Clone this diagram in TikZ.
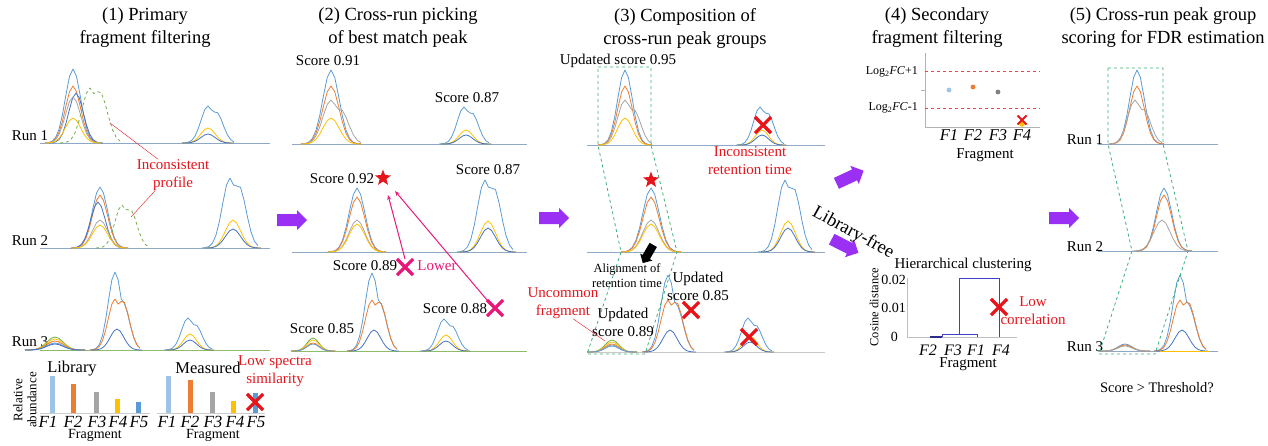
\documentclass[tikz,border=0pt]{standalone}
\usepackage{fontspec}
\setmainfont{Liberation Serif}
\usetikzlibrary{shapes.geometric,shapes.misc,arrows.meta}

\definecolor{pkblue}{HTML}{5B9BD5}
\definecolor{pkorange}{HTML}{ED7D31}
\definecolor{pkgray}{HTML}{A5A5A5}
\definecolor{pkyellow}{HTML}{FFC000}
\definecolor{pkdblue}{HTML}{4472C4}
\definecolor{pklblue}{HTML}{9DC3E6}
\definecolor{pkgreen}{HTML}{70AD47}
\definecolor{baseln}{HTML}{8EA9C8}
\definecolor{grpgreen}{HTML}{3CB07A}
\definecolor{arrowpurple}{HTML}{9B30F5}
\definecolor{lowermag}{HTML}{E8187A}
\definecolor{warnred}{HTML}{E8141B}
\definecolor{dendro}{HTML}{3F3FC8}

\tikzset{
	pkline/.style={line width=0.8pt, line join=round},
	ttl/.style={font=\fontsize{18.5}{23}\selectfont, align=center, inner sep=0pt},
	lbl/.style={font=\fontsize{15}{18}\selectfont, align=center, inner sep=0pt},
	smalllbl/.style={font=\fontsize{12.5}{15}\selectfont, align=center, inner sep=0pt},
	redtxt/.style={lbl, text=warnred},
	fraglbl/.style={font=\fontsize{16.5}{18}\selectfont\itshape, inner sep=0pt},
	xred/.style={cross out, draw=warnred, line width=3.2pt, minimum size=13pt, inner sep=0pt},
	xmag/.style={cross out, draw=lowermag, line width=3.2pt, minimum size=13pt, inner sep=0pt},
	grpbox/.style={grpgreen, dashed, line width=0.8pt},
}

% peak: [shoulder ratio] centre, baseline, height, half width, colour
\newcommand{\pk}[6][0]{\draw[#6, pkline] plot[domain=-#5:#5, samples=17] ({#2+\x},{#3-#4*max(exp(-6.76*\x*\x/(#5*#5)), #1*exp(-6.76*(\x-0.3*#5)*(\x-0.3*#5)/(#5*#5)))});}
% block arrow: [scale] x, y, angle, colour
\newcommand{\blockarrow}[5][1]{\fill[#5, shift={(#2,#3)}, rotate=#4, scale=#1] (-15,-6) -- (5,-6) -- (5,-10) -- (15,0) -- (5,10) -- (5,6) -- (-15,6) -- cycle;}

\begin{document}
\begin{tikzpicture}[x=1pt, y=-1pt]
	\useasboundingbox (0,0) rectangle (1268,445);

	% (1) primary fragment filtering
	\node[ttl] (t1) at (145,28) {(1) Primary\\fragment filtering};
	\node[lbl] (r1a) at (30,136) {Run 1};
	\node[lbl] (r2a) at (30,241) {Run 2};
	\node[lbl] (r3a) at (30,342) {Run 3};
	\draw[baseln, pkline] (40,143) -- (270,143);
	\draw[baseln, pkline] (40,248) -- (270,248);
	\draw[pkgreen!80, pkline] (40,350) -- (270,350);
	\pk{73}{143}{74}{28}{pkblue}
	\pk{73}{143}{57}{28}{pkorange}
	\pk{76}{143}{50}{27}{pkdblue}
	\pk{73}{143}{46}{28}{pkgray}
	\pk{73}{143}{25}{28}{pkyellow}
	\pk[0.95]{90}{143}{55}{30}{pkgreen, dashed}
	\pk[0.85]{208}{143}{37}{26}{pkblue}
	\pk{208}{143}{15}{26}{pkyellow}
	\pk{208}{143}{9}{26}{pkdblue}
	\pk{100}{248}{61}{28}{pkblue}
	\pk{100}{248}{53}{28}{pkorange}
	\pk{98}{248}{46}{27}{pkdblue}
	\pk{100}{248}{28}{28}{pkgray}
	\pk{100}{248}{23}{28}{pkyellow}
	\pk[0.9]{122}{248}{43}{26}{pkgreen, dashed}
	\pk[0.9]{230}{248}{70}{28}{pkblue}
	\pk{233}{248}{28}{28}{pkyellow}
	\pk{233}{248}{19}{28}{pkdblue}
	\pk{55}{350}{13}{30}{pkgreen}
	\pk{55}{350}{11}{30}{pkyellow}
	\pk{55}{350}{9}{30}{pkorange}
	\pk{55}{350}{7}{30}{pkblue}
	\pk{55}{350}{6}{30}{pkdblue}
	\pk[0.62]{115}{350}{78}{25}{pkblue}
	\pk[0.97]{115}{350}{51}{25}{pkorange}
	\pk{117}{350}{21}{25}{pkdblue}
	\pk[0.8]{188}{350}{32}{24}{pkblue}
	\pk{190}{350}{16}{24}{pkyellow}
	\pk{190}{350}{10}{24}{pkdblue}
	\node[redtxt] (incon) at (173,175) {Inconsistent\\profile};
	\coordinate (gpka) at (110,123);
	\coordinate (gpkb) at (131,217);
	\draw[warnred, thin] (gpka) -- ([xshift=-15pt]incon.north);
	\draw[warnred, thin] ([xshift=-18pt]incon.south) -- (gpkb);

	\node[lbl, font=\fontsize{16.5}{18}\selectfont] (lib) at (72,369) {Library};
	\node[lbl, font=\fontsize{16.5}{18}\selectfont] (meas) at (208,368) {Measured};
	\node[lbl, font=\fontsize{13}{14}\selectfont, rotate=90] (relab) at (25,400) {Relative\\abundance};
	\draw[gray!40] (40,413) -- (150,413);
	\draw[gray!40] (157,413) -- (265,413);
	\fill[pklblue] (50,376) rectangle (55,413);
	\fill[pkorange] (71,384) rectangle (76,413);
	\fill[pkgray] (94,392) rectangle (99,413);
	\fill[pkyellow] (115,399) rectangle (120,413);
	\fill[pkblue] (136,402) rectangle (141,413);
	\fill[pklblue] (166,376) rectangle (171,413);
	\fill[pkorange] (188,380) rectangle (193,413);
	\fill[pkgray] (210,392) rectangle (215,413);
	\fill[pkyellow] (231,401) rectangle (236,413);
	\fill[pkblue] (253,393) rectangle (258,413);
	\node[fraglbl, font=\fontsize{17}{18}\selectfont\itshape] (la1) at (48,422) {F1};
	\node[fraglbl, font=\fontsize{17}{18}\selectfont\itshape] (la2) at (73,422) {F2};
	\node[fraglbl, font=\fontsize{17}{18}\selectfont\itshape] (la3) at (97,422) {F3};
	\node[fraglbl, font=\fontsize{17}{18}\selectfont\itshape] (la4) at (118,422) {F4};
	\node[fraglbl, font=\fontsize{17}{18}\selectfont\itshape] (la5) at (139,422) {F5};
	\node[fraglbl, font=\fontsize{17}{18}\selectfont\itshape] (ma1) at (167,422) {F1};
	\node[fraglbl, font=\fontsize{17}{18}\selectfont\itshape] (ma2) at (190,422) {F2};
	\node[fraglbl, font=\fontsize{17}{18}\selectfont\itshape] (ma3) at (213,422) {F3};
	\node[fraglbl, font=\fontsize{17}{18}\selectfont\itshape] (ma4) at (235,422) {F4};
	\node[fraglbl, font=\fontsize{17}{18}\selectfont\itshape] (ma5) at (256,422) {F5};
	\node[lbl, font=\fontsize{14}{16}\selectfont] (fraga) at (95,435) {Fragment};
	\node[lbl, font=\fontsize{14}{16}\selectfont] (fragb) at (213,435) {Fragment};
	\node[xred] (xsim) at (255,402) {};
	\node[redtxt] (lowsim) at (275,371) {Low spectra\\similarity};

	\blockarrow{292}{220}{0}{arrowpurple}

	% (2) cross-run picking of best match peak
	\node[ttl] (t2) at (398,28) {(2) Cross-run picking\\of best match peak};
	\draw[baseln, pkline] (292,144) -- (527,144);
	\draw[baseln, pkline] (292,252) -- (527,252);
	\draw[pkgreen!80, pkline] (292,351) -- (527,351);
	\pk{331}{144}{74}{30}{pkblue}
	\pk{331}{144}{58}{30}{pkorange}
	\pk[0.8]{331}{144}{44}{30}{pkgray}
	\pk{331}{144}{26}{30}{pkyellow}
	\pk[0.85]{464}{144}{37}{25}{pkblue}
	\pk{466}{144}{14}{25}{pkyellow}
	\pk{466}{144}{9}{25}{pkdblue}
	\pk{357}{252}{64}{29}{pkblue}
	\pk{357}{252}{55}{29}{pkorange}
	\pk{357}{252}{32}{29}{pkgray}
	\pk{357}{252}{28}{29}{pkyellow}
	\pk[0.9]{485}{252}{72}{28}{pkblue}
	\pk{488}{252}{31}{28}{pkyellow}
	\pk{488}{252}{24}{28}{pkdblue}
	\pk{313}{351}{13}{22}{pkgreen}
	\pk{313}{351}{11}{22}{pkyellow}
	\pk{313}{351}{8}{22}{pkorange}
	\pk{313}{351}{7}{22}{pkblue}
	\pk[0.62]{372}{351}{78}{25}{pkblue}
	\pk[0.97]{372}{351}{51}{25}{pkorange}
	\pk{374}{351}{21}{25}{pkdblue}
	\pk[0.8]{444}{351}{32}{24}{pkblue}
	\pk{446}{351}{16}{24}{pkyellow}
	\pk{446}{351}{10}{24}{pkdblue}
	\node[lbl] (s91) at (328,61) {Score 0.91};
	\node[lbl] (s87a) at (467,98) {Score 0.87};
	\node[lbl] (s92) at (342,179) {Score 0.92};
	\node[lbl] (s87b) at (488,170) {Score 0.87};
	\node[lbl] (s89) at (365,266) {Score 0.89};
	\node[lbl] (s88) at (455,309) {Score 0.88};
	\node[lbl] (s85) at (322,329) {Score 0.85};
	\node[lbl, text=lowermag] (lower) at (437,266) {Lower};
	\node[star, star points=5, star point ratio=2.4, fill=warnred, minimum size=17pt, inner sep=0pt] (best) at (383,178) {};
	\node[xmag] (x89) at (405,267) {};
	\node[xmag] (x88) at (495,308) {};
	\coordinate (tipa) at (388,195);
	\coordinate (tipb) at (395,191);
	\draw[lowermag, line width=1pt, -{Stealth[length=5pt, width=4pt]}] (x89.north) -- (tipa);
	\draw[lowermag, line width=1pt, -{Stealth[length=5pt, width=4pt]}] (x88.north west) -- (tipb);

	\blockarrow{554}{218}{0}{arrowpurple}

	% (3) composition of cross-run peak groups
	\node[ttl] (t3) at (685,28) {(3) Composition of\\cross-run peak groups};
	\draw[baseln, pkline] (587,145) -- (825,145);
	\draw[baseln, pkline] (587,252) -- (825,252);
	\draw[pkgray!60, pkline] (587,352) -- (825,352);
	\pk{625}{145}{75}{27}{pkblue}
	\pk{625}{145}{59}{27}{pkorange}
	\pk[0.8]{625}{145}{45}{27}{pkgray}
	\pk{625}{145}{27}{27}{pkyellow}
	\pk[0.85]{760}{145}{38}{24}{pkblue}
	\pk{762}{145}{15}{24}{pkyellow}
	\pk{762}{145}{10}{24}{pkdblue}
	\pk{651}{252}{64}{30}{pkblue}
	\pk{651}{252}{55}{30}{pkorange}
	\pk{651}{252}{32}{30}{pkgray}
	\pk{651}{252}{28}{30}{pkyellow}
	\pk[0.9]{785}{252}{72}{27}{pkblue}
	\pk{788}{252}{31}{27}{pkyellow}
	\pk{788}{252}{24}{27}{pkdblue}
	\pk{612}{352}{12}{25}{pkgreen}
	\pk{612}{352}{10}{25}{pkyellow}
	\pk{612}{352}{8}{25}{pkorange}
	\pk{612}{352}{7}{25}{pkgray}
	\pk{612}{352}{6}{25}{pkblue}
	\pk[0.62]{668}{352}{77}{26}{pkblue}
	\pk[0.97]{668}{352}{52}{26}{pkorange}
	\pk{670}{352}{22}{26}{pkdblue}
	\pk[0.8]{748}{352}{34}{24}{pkblue}
	\pk{750}{352}{16}{24}{pkyellow}
	\pk{750}{352}{10}{24}{pkdblue}
	\draw[grpbox] (598,67) -- (651,67) -- (651,145) -- (677,252) -- (645,354) -- (587,354) -- (621,252) -- (598,145) -- cycle;
	\node[lbl] (u95) at (618,61) {Updated score 0.95};
	\node[xred] (xrt) at (763,125) {};
	\node[redtxt] (incrt) at (750,161) {Inconsistent\\retention time};
	\node[star, star points=5, star point ratio=2.4, fill=warnred, minimum size=17pt, inner sep=0pt] (best3) at (651,180) {};
	\blockarrow[0.7]{648}{254}{-120}{black}
	\node[smalllbl] (align) at (627,276) {Alignment of\\retention time};
	\node[lbl] (u85) at (698,286) {Updated\\score 0.85};
	\node[xred] (x85) at (691,310) {};
	\node[lbl] (u89) at (623,322) {Updated\\score 0.89};
	\node[redtxt] (uncom) at (563,303) {Uncommon\\fragment};
	\coordinate (smallpk) at (605,341);
	\draw[warnred, thin] ([xshift=10pt]uncom.south) -- (smallpk);
	\node[xred] (xc) at (749,337) {};

	% (4) secondary fragment filtering
	\node[ttl] (t4) at (937,28) {(4) Secondary\\fragment filtering};
	\draw[gray!60] (925,53) -- (925,127) -- (1040,127);
	\draw[gray!60] (921,90) -- (925,90);
	\draw[warnred!80, dashed, line width=0.8pt] (925,71) -- (1040,71);
	\draw[warnred!80, dashed, line width=0.8pt] (925,108) -- (1040,108);
	\node[smalllbl, anchor=east, font=\fontsize{12}{14}\selectfont] (lgup) at (918,72) {Log\textsubscript{2}\textit{FC}+1};
	\node[smalllbl, anchor=east, font=\fontsize{12}{14}\selectfont] (lgdn) at (918,108) {Log\textsubscript{2}\textit{FC}-1};
	\fill[pklblue] (949,90) circle (2.4);
	\fill[pkorange] (973,87) circle (2.4);
	\fill[gray] (998,92) circle (2.4);
	\fill[pkyellow] (1022,124) circle (2.8);
	\node[cross out, draw=warnred, line width=2pt, minimum size=7pt, inner sep=0pt] (xf4) at (1022,120) {};
	\node[fraglbl] (fb1) at (949,135) {F1};
	\node[fraglbl] (fb2) at (973,135) {F2};
	\node[fraglbl] (fb3) at (998,135) {F3};
	\node[fraglbl] (fb4) at (1022,135) {F4};
	\node[lbl] (fragc) at (985,155) {Fragment};

	\blockarrow{850}{177}{25}{arrowpurple}
	\blockarrow{845}{246}{-27}{arrowpurple}
	\node[lbl, font=\fontsize{18.5}{20}\selectfont, rotate=-29] (libfree) at (853,233) {Library-free};

	\node[lbl] (hclust) at (963,265) {Hierarchical clustering};
	\node[smalllbl, rotate=90] (cosd) at (874,307) {Cosine distance};
	\node[lbl, anchor=east, font=\fontsize{14}{16}\selectfont] (tk2) at (906,280) {0.02};
	\node[lbl, anchor=east, font=\fontsize{14}{16}\selectfont] (tk1) at (906,308) {0.01};
	\node[lbl, anchor=east, font=\fontsize{14}{16}\selectfont] (tk0) at (898,337) {0};
	\draw[gray!50] (907,278) -- (907,337) -- (1017,337);
	\draw[dendro!70!black, line width=1.2pt] (930,337) -- (942,337);
	\draw[dendro, line width=0.9pt] (942,337) -- (942,334) -- (977,334) -- (977,337);
	\draw[dendro, line width=0.9pt] (959,334) -- (959,278) -- (999,278) -- (999,337);
	\node[fraglbl, font=\fontsize{16}{18}\selectfont\itshape] (fc2) at (928,350) {F2};
	\node[fraglbl, font=\fontsize{16}{18}\selectfont\itshape] (fc3) at (953,350) {F3};
	\node[fraglbl, font=\fontsize{16}{18}\selectfont\itshape] (fc1) at (976,350) {F1};
	\node[fraglbl, font=\fontsize{16}{18}\selectfont\itshape] (fc4) at (1001,350) {F4};
	\node[lbl] (fragd) at (968,364) {Fragment};
	\node[xred] (xcor) at (999,307) {};
	\node[redtxt] (lowcor) at (1033,311) {Low\\correlation};

	\blockarrow{1064}{218}{0}{arrowpurple}

	% (5) cross-run peak group scoring
	\node[ttl] (t5) at (1163,28) {(5) Cross-run peak group\\scoring for FDR estimation};
	\node[lbl] (r1b) at (1085,140) {Run 1};
	\node[lbl] (r2b) at (1085,247) {Run 2};
	\node[lbl] (r3b) at (1085,347) {Run 3};
	\draw[baseln, pkline] (1098,144) -- (1218,144);
	\draw[baseln, pkline] (1098,251) -- (1218,251);
	\draw[baseln, pkline] (1098,351) -- (1218,351);
	\pk{1137}{144}{74}{27}{pkblue}
	\pk{1137}{144}{58}{27}{pkorange}
	\pk[0.8]{1135}{144}{44}{27}{pkgray}
	\pk{1164}{251}{63}{28}{pkblue}
	\pk{1164}{251}{56}{28}{pkorange}
	\pk{1162}{251}{31}{30}{pkgray}
	\pk{1125}{351}{7}{25}{pkblue}
	\pk{1125}{351}{6}{25}{pkorange}
	\pk{1125}{351}{5}{25}{pkgray}
	\pk[0.62]{1180}{351}{76}{26}{pkblue}
	\pk[0.97]{1180}{351}{51}{26}{pkorange}
	\pk{1182}{351}{21}{26}{pkdblue}
	\draw[pkyellow, pkline] (1160,351) -- (1210,351);
	\draw[grpbox] (1108,68) -- (1163,68) -- (1163,144) -- (1188,251) -- (1155,354) -- (1099,354) -- (1132,251) -- (1108,144) -- cycle;
	\node[lbl, font=\fontsize{14.5}{17}\selectfont] (thr) at (1157,388) {Score > Threshold?};

\end{tikzpicture}
\end{document}
